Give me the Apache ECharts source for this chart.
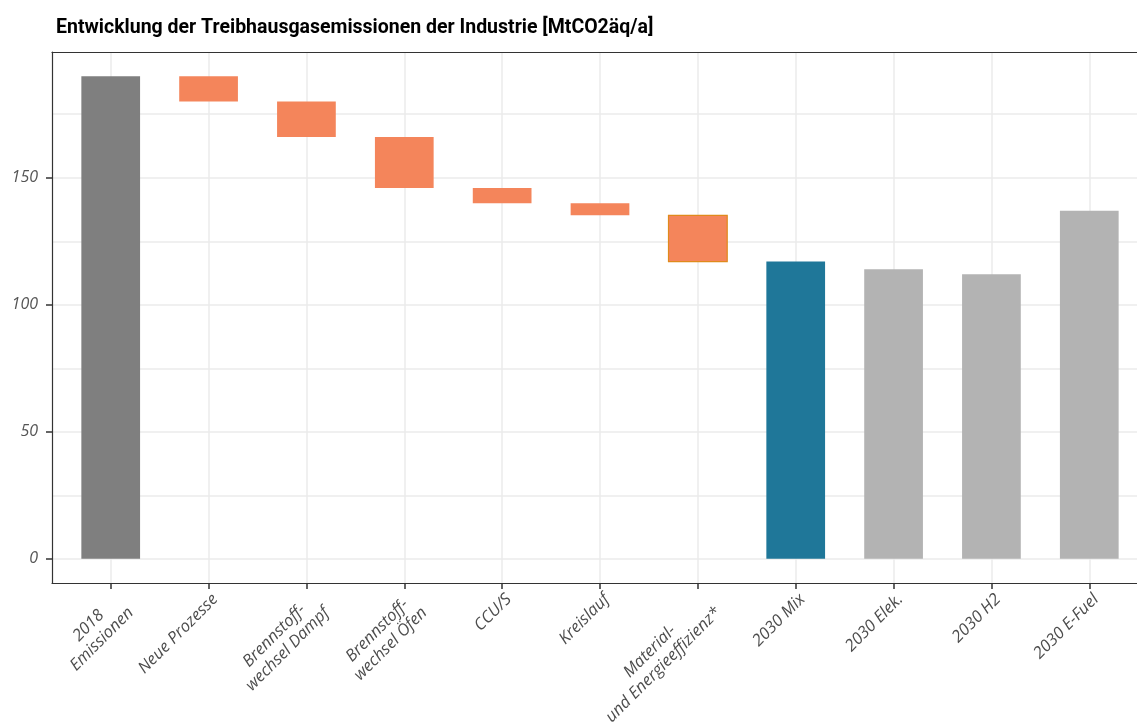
<!DOCTYPE html>
<html>
<head>
<meta charset="utf-8">
<script src="https://cdn.jsdelivr.net/npm/echarts@6/dist/echarts.min.js"></script>
<style>
html,body{margin:0;padding:0;background:#fff;overflow:hidden;}
#chart{width:1200px;height:722px;}
</style>
</head>
<body>
<div id="chart"></div>
<script>
const titleText = 'Entwicklung der Treibhausgasemissionen der Industrie [MtCO2äq/a]';
const categories = ['2018\nEmissionen', 'Neue Prozesse', 'Brennstoff-\nwechsel Dampf', 'Brennstoff-\nwechsel Öfen', 'CCU/S', 'Kreislauf', 'Material-\nund Energieeffizienz*', '2030 Mix', '2030 Elek.', '2030 H2', '2030 E-Fuel'];
const barStart = [0, 190, 180, 166, 146, 140, 135.2, 0, 0, 0, 0];
const barEnd   = [190, 180, 166, 146, 140, 135.2, 117, 117, 114, 112, 137];
const barKind  = ['start', 'step', 'step', 'step', 'step', 'step', 'stepOutlined', 'mix', 'alt', 'alt', 'alt'];
const yTickValues = [0, 50, 100, 150];
const yMinorGrid = [25, 75, 125, 175];

const kindStyle = {
  start: {fill: '#7f7f7f', stroke: null},
  step: {fill: '#f4855b', stroke: null},
  stepOutlined: {fill: '#f4855b', stroke: '#e08a1c'},
  mix: {fill: '#1f7799', stroke: null},
  alt: {fill: '#b3b3b3', stroke: null}
};

const xPositions = categories.map((c, i) => i + 1);
const data = categories.map((c, i) => [i + 1, barStart[i], barEnd[i], i]);

const chart = echarts.init(document.getElementById('chart'), null, {renderer: 'canvas'});
const labelFont = '"Open Sans", "DejaVu Sans", sans-serif';
const borderLine = {show: true, onZero: false, lineStyle: {color: '#333333', width: 1.2}};
chart.setOption({
  animation: false,
  backgroundColor: '#ffffff',
  title: {
    text: titleText,
    left: 51, top: 13,
    textStyle: {fontFamily: 'Roboto, sans-serif', fontWeight: 'bold', fontSize: 19.5, color: '#000'}
  },
  grid: {
    left: 52, top: 52, width: 1096, height: 531,
    show: false, containLabel: false, outerBoundsMode: 'none'
  },
  xAxis: [{
    type: 'value', min: 0.4, max: 11.6, position: 'bottom',
    axisLine: borderLine,
    axisTick: {show: true, customValues: xPositions, length: 6, lineStyle: {color: '#333', width: 1.5}},
    axisLabel: {
      customValues: xPositions, rotate: 45, margin: 7, verticalAlign: 'top',
      formatter: v => (categories[Math.round(v) - 1] || '').split('\n').map(s => '{c|' + s + '}').join('\n'),
      rich: {c: {align: 'center', fontFamily: labelFont, fontStyle: 'italic', fontSize: 16.5, color: '#4d4d4d', lineHeight: 19}},
      fontFamily: labelFont, fontStyle: 'italic', fontSize: 16.5, color: '#4d4d4d', lineHeight: 19
    },
    splitLine: {show: true, lineStyle: {color: '#ebebeb', width: 1.5}}
  }, {
    type: 'value', min: 0.4, max: 11.6, position: 'top',
    axisLine: borderLine, axisTick: {show: false}, axisLabel: {show: false}, splitLine: {show: false}
  }],
  yAxis: [{
    type: 'value', min: -9.5, max: 199.5, position: 'left',
    axisLine: borderLine,
    axisTick: {show: true, customValues: yTickValues, length: 6, lineStyle: {color: '#333', width: 1.5}},
    axisLabel: {customValues: yTickValues, margin: 14, fontFamily: labelFont, fontStyle: 'italic', fontSize: 16, color: '#555'},
    splitLine: {show: true, lineStyle: {color: '#ebebeb', width: 1.5}}
  }, {
    type: 'value', min: -9.5, max: 199.5, position: 'left',
    axisLine: {show: false}, axisLabel: {show: false},
    axisTick: {show: false, customValues: yMinorGrid},
    splitLine: {show: true, lineStyle: {color: '#ebebeb', width: 1.5}}
  }],
  series: [
    {
      type: 'custom', z: 3,
      xAxisIndex: 0, yAxisIndex: 0,
      data: data,
      encode: {x: 0, y: [1, 2]},
      renderItem: function (params, api) {
        const x = api.value(0), lo = api.value(1), hi = api.value(2);
        const idx = api.value(3);
        const p1 = api.coord([x - 0.3, hi]);
        const p2 = api.coord([x + 0.3, lo]);
        const st = kindStyle[barKind[idx]];
        const style = {fill: st.fill};
        if (st.stroke) { style.stroke = st.stroke; style.lineWidth = 1.2; }
        return {
          type: 'rect',
          shape: {x: p1[0], y: p1[1], width: p2[0] - p1[0], height: p2[1] - p1[1]},
          style: style
        };
      }
    }
  ]
});
</script>
</body>
</html>
